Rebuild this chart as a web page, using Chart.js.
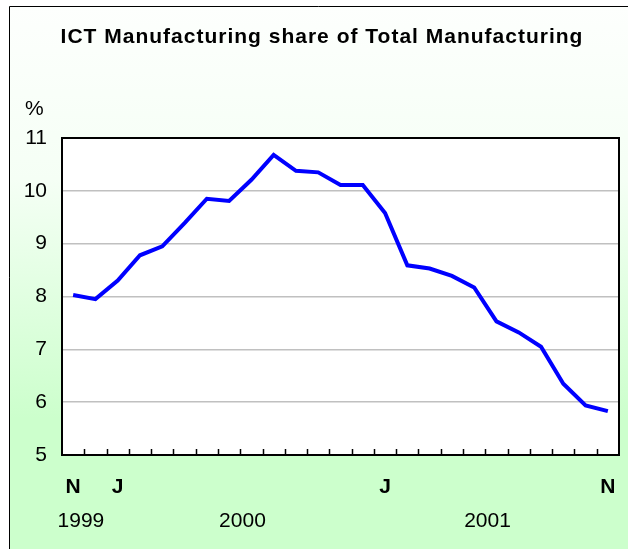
<!DOCTYPE html>
<html>
<head>
<meta charset="utf-8">
<script src="https://cdn.jsdelivr.net/npm/chart.js@4"></script>
<style>
  html, body { margin: 0; padding: 0; background: #ffffff; }
  #wrap { width: 628px; height: 549px; }
</style>
</head>
<body>
<div id="wrap"><canvas id="ict-chart" width="628" height="549"></canvas></div>
<script>
// Nov 1999 .. Nov 2001, monthly
const months = ['N', 'D', 'J', 'F', 'M', 'A', 'M', 'J', 'J', 'A', 'S', 'O',
  'N', 'D', 'J', 'F', 'M', 'A', 'M', 'J', 'J', 'A', 'S', 'O', 'N'];
const tickLabels = ['N', '', 'J', '', '', '', '', '', '', '', '', '',
  '', '', 'J', '', '', '', '', '', '', '', '', '', 'N'];
const shareValues = [8.03, 7.95, 8.30, 8.78, 8.95, 9.39, 9.85, 9.81, 10.21, 10.68,
  10.38, 10.35, 10.11, 10.11, 9.58, 8.59, 8.53, 8.39, 8.17, 7.53, 7.32, 7.05, 6.35, 5.94, 5.83];
const yearLabels = ['1999', '2000', '2001'];
const yearAnchors = [0.35, 7.6, 18.6]; // category index where each year label sits

const FONT = 'Arial, "Liberation Sans", sans-serif';

const decorPlugin = {
  id: 'decor',
  beforeDraw: (chart) => {
    const { ctx, width, height, chartArea } = chart;
    ctx.save();
    ctx.fillStyle = '#ffffff';
    ctx.fillRect(0, 0, width, height);
    // green gradient panel, pale at the top and saturating below the middle
    const grad = ctx.createLinearGradient(0, 6, 0, height);
    grad.addColorStop(0, '#fdfffd');
    grad.addColorStop(0.32, '#f5fff5');
    grad.addColorStop(0.76, '#ccffcc');
    grad.addColorStop(1, '#ccffcc');
    ctx.fillStyle = grad;
    ctx.fillRect(9, 6, width - 9, height - 6);
    ctx.strokeStyle = '#000000';
    ctx.lineWidth = 1;
    ctx.beginPath();
    ctx.moveTo(9.5, height);
    ctx.lineTo(9.5, 6.5);
    ctx.lineTo(width, 6.5);
    ctx.stroke();
    // plot area
    ctx.fillStyle = '#ffffff';
    ctx.fillRect(chartArea.left, chartArea.top, chartArea.right - chartArea.left, chartArea.bottom - chartArea.top);
    ctx.restore();
  },
  afterDatasetsDraw: (chart) => {
    const { ctx, chartArea } = chart;
    const x = chart.scales.x;
    ctx.save();
    ctx.strokeStyle = '#000000';
    ctx.lineWidth = 1.5;
    // tick marks between months, pointing inward
    ctx.beginPath();
    for (let i = 1; i < months.length; i++) {
      const px = Math.round((x.getPixelForValue(i - 1) + x.getPixelForValue(i)) / 2) + 0.5;
      ctx.moveTo(px, chartArea.bottom);
      ctx.lineTo(px, chartArea.bottom - 6);
    }
    ctx.stroke();
    ctx.lineWidth = 2;
    ctx.strokeRect(chartArea.left, chartArea.top, chartArea.right - chartArea.left, chartArea.bottom - chartArea.top);
    ctx.restore();
  },
  afterDraw: (chart) => {
    const { ctx, chartArea } = chart;
    const x = chart.scales.x;
    ctx.save();
    ctx.fillStyle = '#000000';
    ctx.textAlign = 'center';
    ctx.textBaseline = 'middle';
    ctx.font = 'bold 21px ' + FONT;
    ctx.letterSpacing = '1px';
    ctx.fillText('ICT Manufacturing share of Total Manufacturing', 322, 37);
    ctx.letterSpacing = '0px';
    ctx.font = '21px ' + FONT;
    ctx.textAlign = 'left';
    ctx.fillText('%', 25, chartArea.top - 29);
    ctx.textAlign = 'center';
    yearLabels.forEach((y, i) => {
      ctx.fillText(y, x.getPixelForValue(yearAnchors[i]), chartArea.bottom + 66);
    });
    ctx.restore();
  }
};

new Chart(document.getElementById('ict-chart'), {
  type: 'line',
  data: {
    labels: months,
    datasets: [{
      data: shareValues,
      borderColor: '#0000ff',
      borderWidth: 4,
      pointRadius: 0,
      tension: 0,
      fill: false
    }]
  },
  options: {
    responsive: false,
    animation: false,
    layout: { padding: { top: 138, right: 9, left: 0, bottom: 0 } },
    plugins: {
      legend: { display: false },
      tooltip: { enabled: false },
      title: { display: false }
    },
    scales: {
      x: {
        offset: true,
        grid: { display: false, drawTicks: false },
        border: { display: false },
        afterFit: (scale) => {
          scale.height = 94;
          scale.paddingLeft = 0;
          scale.paddingRight = 0;
        },
        ticks: {
          autoSkip: false,
          maxRotation: 0,
          padding: 20,
          color: '#000000',
          font: { family: FONT, size: 21, weight: 'bold' },
          callback: (val, i) => tickLabels[i]
        }
      },
      y: {
        min: 5,
        max: 11,
        afterFit: (scale) => { scale.width = 62; },
        border: { display: false },
        grid: {
          drawTicks: false,
          lineWidth: 1.5,
          color: (c) => (c.tick.value === 5 || c.tick.value === 11) ? 'rgba(0,0,0,0)' : '#c0c0c0'
        },
        ticks: {
          stepSize: 1,
          padding: 15,
          color: '#000000',
          font: { family: FONT, size: 21 }
        }
      }
    }
  },
  plugins: [decorPlugin]
});
</script>
</body>
</html>
